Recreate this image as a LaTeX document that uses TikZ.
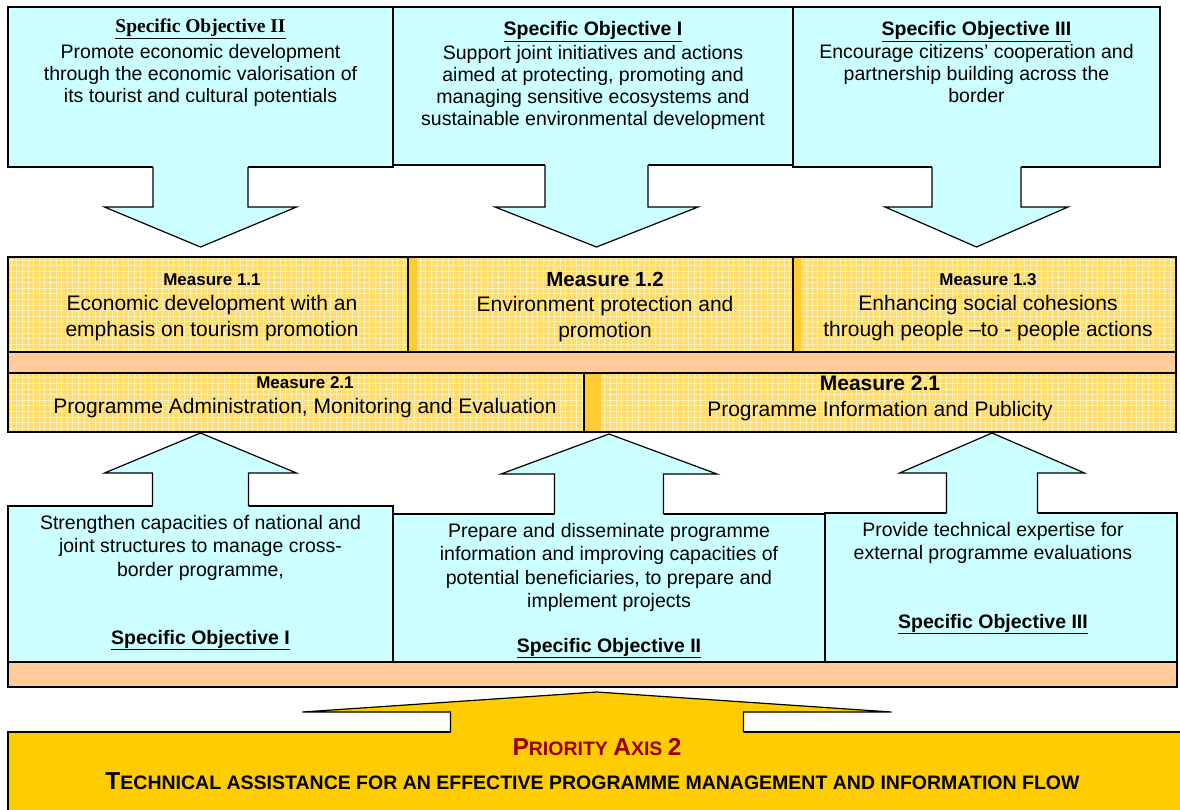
\documentclass[tikz,border=0pt]{standalone}
\usepackage{fontspec}
\setmainfont{Liberation Sans}
\newfontfamily\serifhead{Liberation Serif}
\usetikzlibrary{calc,positioning,patterns.meta}

\definecolor{objcyan}{HTML}{CCFFFF}
\definecolor{measyellow}{HTML}{FFDC6E}
\definecolor{gridyellow}{HTML}{FFF0B8}
\definecolor{stripeyellow}{HTML}{FFCC33}
\definecolor{bandorange}{HTML}{FFCC99}
\definecolor{axisyellow}{HTML}{FFCC00}
\definecolor{axisred}{HTML}{990000}

\tikzstyle{objbox} = [rectangle, draw, fill=objcyan, line width=1.2pt, anchor=north west, inner sep=0pt, outer sep=0pt]
\tikzstyle{objtext} = [align=center, inner sep=0pt, font=\fontsize{19.5}{22}\selectfont]
\tikzstyle{lowtext} = [align=center, inner sep=0pt, font=\fontsize{19.5}{23.5}\selectfont]
\tikzstyle{meastext} = [align=center, inner sep=0pt, font=\fontsize{21}{25.5}\selectfont]
\tikzstyle{band} = [rectangle, draw, fill=bandorange, line width=1.2pt, anchor=north west, inner sep=0pt, outer sep=0pt]
\tikzstyle{measrow} = [rectangle, draw, line width=1.2pt, anchor=north west, inner sep=0pt, outer sep=0pt,
    preaction={fill=measyellow},
    preaction={pattern={Lines[distance=5.6pt,angle=0,line width=0.9pt]}, pattern color=gridyellow},
    pattern={Lines[distance=5.6pt,angle=90,line width=0.9pt]}, pattern color=gridyellow]

\newcommand{\mhead}[2]{{\bfseries\fontsize{#1}{#1}\selectfont #2}}
\newcommand{\smallcap}[2]{{\fontsize{24.5}{24.5}\selectfont #1}{\fontsize{19.5}{19.5}\selectfont #2}}
% block arrow: base, dir (1 down, -1 up), shaft half, head half, shaft length, head length, fill
\newcommand{\blockarrow}[7]{%
  \fill[#7] ($(#1)+({-#3},{-0.8*(#2)})$) -- ($(#1)+({-#3},{#2*#5})$) -- ($(#1)+({-#4},{#2*#5})$)
    -- ($(#1)+(0,{#2*(#5+#6)})$) -- ($(#1)+({#4},{#2*#5})$) -- ($(#1)+({#3},{#2*#5})$)
    -- ($(#1)+({#3},{-0.8*(#2)})$) -- cycle;
  \draw[line width=1.2pt] ($(#1)+({-#3},0)$) -- ($(#1)+({-#3},{#2*#5})$) -- ($(#1)+({-#4},{#2*#5})$)
    -- ($(#1)+(0,{#2*(#5+#6)})$) -- ($(#1)+({#4},{#2*#5})$) -- ($(#1)+({#3},{#2*#5})$)
    -- ($(#1)+({#3},0)$);
}

\begin{document}
\begin{tikzpicture}[x=1pt,y=-1pt]
    \useasboundingbox (0,0) rectangle (1180,809);
    \clip (0,0) rectangle (1180,809);
    % Place nodes
    \node[objbox, minimum width=385, minimum height=160] (so2) at (8,7) {};
    \node[objbox, minimum width=400, minimum height=158] (so1) at (393,7) {};
    \node[objbox, minimum width=367, minimum height=160] (so3) at (793,7) {};
    \node[objtext, below=12pt of so2.north] (so2t) {\underline{{\serifhead\bfseries Specific Objective II}}\\[4pt]Promote economic development\\through the economic valorisation of\\its tourist and cultural potentials};
    \node[objtext, below=14pt of so1.north] (so1t) {\underline{\textbf{Specific Objective I}}\\[2pt]Support joint initiatives and actions\\aimed at protecting, promoting and\\managing sensitive ecosystems and\\sustainable environmental development};
    \node[objtext, below=14pt of so3.north] (so3t) {\underline{\textbf{Specific Objective III}}\\[1pt]Encourage citizens’ cooperation and\\partnership building across the\\border};

    \node[measrow, minimum width=1168, minimum height=95] (row1) at (8,257) {};
    \node[band, minimum width=1168, minimum height=21] (band1) at (8,352) {};
    \node[measrow, minimum width=1168, minimum height=59] (row2) at (8,373) {};
    \fill[stripeyellow] (408,257.6) rectangle (417,351.4);
    \fill[stripeyellow] (793,257.6) rectangle (801,351.4);
    \fill[stripeyellow] (584,373.6) rectangle (601,431.4);
    \draw[line width=1.2pt] (408,257) -- (408,352) (793,257) -- (793,352) (584,373) -- (584,432);
    \node[meastext] (m11) at (212,307) {\mhead{17}{Measure 1.1}\\Economic development with an\\emphasis on tourism promotion};
    \node[meastext] (m12) at (605,307) {\mhead{20.5}{Measure 1.2}\\Environment protection and\\promotion};
    \node[meastext] (m13) at (988,307) {\mhead{17}{Measure 1.3}\\Enhancing social cohesions\\through people –to - people actions};
    \node[meastext] (m21) at (305,397) {\mhead{17}{Measure 2.1}\\Programme Administration, Monitoring and Evaluation};
    \node[meastext] (m22) at (880,398.5) {\mhead{21}{Measure 2.1}\\Programme Information and Publicity};

    \node[objbox, minimum width=385, minimum height=156] (b1) at (8,506) {};
    \node[objbox, minimum width=432, minimum height=148] (b2) at (393,514) {};
    \node[objbox, minimum width=352, minimum height=149] (b3) at (825,513) {};
    \node[band, minimum width=1169, minimum height=25] (band2) at (8,662) {};
    \node[lowtext, below=9pt of b1.north] (b1t) {Strengthen capacities of national and\\joint structures to manage cross-\\border programme,};
    \node[lowtext, below=9pt of b2.north] (b2t) {Prepare and disseminate programme\\information and improving capacities of\\potential beneficiaries, to prepare and\\implement projects};
    \node[lowtext, below=9pt of b3.north, xshift=-8pt] (b3t) {Provide technical expertise for\\external programme evaluations};
    \node[lowtext, anchor=base] (b1h) at ($(b1.south)+(0,-18)$) {\underline{\textbf{Specific Objective I}}};
    \node[lowtext, anchor=base] (b2h) at ($(b2.south)+(0,-10)$) {\underline{\textbf{Specific Objective II}}};
    \node[lowtext, anchor=base] (b3h) at ($(b3.south)+(-8,-34)$) {\underline{\textbf{Specific Objective III}}};

    \node[objbox, fill=axisyellow, minimum width=1178, minimum height=100] (axis) at (8,732) {};
    \node[anchor=base, inner sep=0pt, text=axisred, font=\fontsize{19.5}{19.5}\selectfont\bfseries] (axt) at (597,755) {\smallcap{P}{RIORITY} \smallcap{A}{XIS} {\fontsize{24.5}{24.5}\selectfont 2}};
    \node[anchor=base, inner sep=0pt, font=\fontsize{19.5}{19.5}\selectfont\bfseries] (axd) at (592.5,789) {\smallcap{T}{ECHNICAL ASSISTANCE FOR AN EFFECTIVE PROGRAMME MANAGEMENT AND INFORMATION FLOW}};

    % Draw edges
    \coordinate (d1) at (so2.south);
    \coordinate (d2) at ($(so1.south)+(3.5,0)$);
    \coordinate (d3) at (so3.south);
    \coordinate (u1) at (b1.north);
    \coordinate (u2) at (b2.north);
    \coordinate (u3) at ($(b3.north)+(-9,0)$);
    \coordinate (u4) at (axis.north);
    \blockarrow{d1}{1}{47.5}{96}{40}{40}{objcyan}
    \blockarrow{d2}{1}{51.5}{101.5}{42}{40}{objcyan}
    \blockarrow{d3}{1}{44.5}{91.5}{40}{40}{objcyan}
    \blockarrow{u1}{-1}{48}{96}{33}{40}{objcyan}
    \blockarrow{u2}{-1}{54.5}{108}{40}{40}{objcyan}
    \blockarrow{u3}{-1}{45.5}{92.5}{40}{40}{objcyan}
    \blockarrow{u4}{-1}{146.5}{294.5}{20}{20}{axisyellow}
\end{tikzpicture}
\end{document}
